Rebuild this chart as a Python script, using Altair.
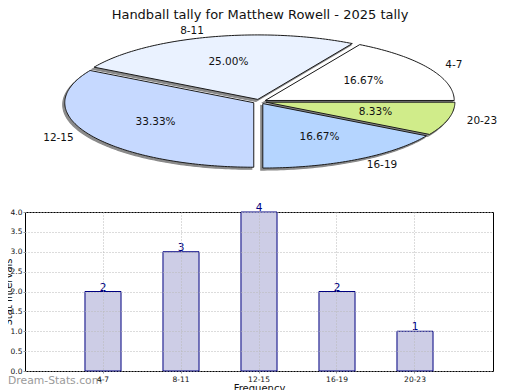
import math
import altair as alt
import pandas as pd

# ---------------- data ----------------
categories = ["4-7", "8-11", "12-15", "16-19", "20-23"]
counts = [2, 3, 4, 2, 1]
pie_colors = ["#ffffff", "#eaf2ff", "#c6d9ff", "#b5d5ff", "#d0ec8a"]
y_ticks = [0, 0.5, 1, 1.5, 2, 2.5, 3, 3.5, 4]
title_text = "Handball tally for Matthew Rowell - 2025 tally"
watermark = "Dream-Stats.com"

FONT = "DejaVu Sans"

# pie geometry in top-panel pixels
CX, CY, RX, RY = 234.5, 91.6, 189, 64.5
EXPLODE = 0.035
SHADOW_DX, SHADOW_DY = -2, 2

total = sum(counts)


def ell(a_deg, ox, oy, k=1.0):
    a = math.radians(a_deg)
    return [CX + ox + k * RX * math.cos(a), CY + oy - k * RY * math.sin(a)]


features, shadows, lab_rows = [], [], []
start = 0.0
for cat, n in zip(categories, counts):
    sweep = 360.0 * n / total
    a0 = start
    mid = a0 + sweep / 2
    ox = EXPLODE * RX * math.cos(math.radians(mid))
    oy = -EXPLODE * RY * math.sin(math.radians(mid))
    steps = max(4, int(math.ceil(sweep)))
    ring = [[CX + ox, CY + oy]] + [ell(a0 + sweep * i / steps, ox, oy) for i in range(steps + 1)] + [[CX + ox, CY + oy]]
    features.append({"type": "Feature", "properties": {"cat": cat},
                     "geometry": {"type": "Polygon", "coordinates": [ring]}})
    sring = [[p[0] + SHADOW_DX, p[1] + SHADOW_DY] for p in ring]
    shadows.append({"type": "Feature", "properties": {"cat": cat},
                    "geometry": {"type": "Polygon", "coordinates": [sring]}})
    px, py = ell(mid, ox, oy, 0.6)
    lx, ly = ell(mid, ox, oy, 1.1)
    lab_rows.append({"cat": cat, "pct": f"{100.0 * n / total:.2f}%", "px": px, "py": py,
                     "lx": lx, "ly": ly, "side": "L" if math.cos(math.radians(mid)) >= 0 else "R"})
    start += sweep

lab_df = pd.DataFrame(lab_rows)

proj = dict(type="identity", scale=1, translate=[0, 0])

shadow_layer = alt.Chart(
    alt.InlineData(values={"type": "FeatureCollection", "features": shadows},
                   format=alt.DataFormat(type="json", property="features"))
).mark_geoshape(fill="#8a8a8a", stroke="#8a8a8a", strokeWidth=1.2).project(**proj)

slice_layer = alt.Chart(
    alt.InlineData(values={"type": "FeatureCollection", "features": features},
                   format=alt.DataFormat(type="json", property="features"))
).mark_geoshape(stroke="#1a1a1a", strokeWidth=1).encode(
    color=alt.Color("properties.cat:N", scale=alt.Scale(domain=categories, range=pie_colors), legend=None)
).project(**proj)

pct_layer = alt.Chart(lab_df).mark_text(font=FONT, fontSize=10.5, color="#111").encode(
    longitude="px:Q", latitude="py:Q", text="pct:N"
).project(**proj)

lab_left = alt.Chart(lab_df).transform_filter(alt.datum.side == "L").mark_text(
    font=FONT, fontSize=10.5, color="#111", align="left").encode(
    longitude="lx:Q", latitude="ly:Q", text="cat:N").project(**proj)

lab_right = alt.Chart(lab_df).transform_filter(alt.datum.side == "R").mark_text(
    font=FONT, fontSize=10.5, color="#111", align="right").encode(
    longitude="lx:Q", latitude="ly:Q", text="cat:N").project(**proj)

title_layer = alt.Chart(pd.DataFrame({"t": [title_text]})).mark_text(
    font=FONT, fontSize=13, color="#111", baseline="top").encode(
    text="t:N", x=alt.value(CX + 0.5), y=alt.value(-1))

top = alt.layer(shadow_layer, slice_layer, pct_layer, lab_left, lab_right, title_layer).properties(
    width=478, height=202)

# ---------------- bar chart ----------------
bar_df = pd.DataFrame({"cat": categories, "count": counts})

x_enc = alt.X("cat:N", sort=categories,
              scale=alt.Scale(paddingInner=0.538, paddingOuter=0.769),
              axis=alt.Axis(title="Frequency", labelAngle=0, labelFontSize=7.5, labelColor="#111",
                            tickSize=2, tickColor="#999", grid=True, gridDash=[1, 2], gridColor="#b8b8b8",
                            domain=False, zindex=1, titleFontSize=10, titleFontWeight="normal",
                            titleColor="#111", labelPadding=2, titlePadding=1, bandPosition=0.5))
y_enc = alt.Y("count:Q", scale=alt.Scale(domain=[0, 4], nice=False),
              axis=alt.Axis(values=y_ticks, format=".1f", title="Stat Intervals", labelFontSize=7.5,
                            labelColor="#111", tickSize=2, tickColor="#999", grid=True, gridDash=[1, 2],
                            gridColor="#b8b8b8", domain=False, zindex=1, titleFontSize=10,
                            titleFontWeight="normal", titleColor="#111", labelPadding=1,
                            labelOverlap=False, titleX=-12, titleY=79.5))

bars = alt.Chart(bar_df).mark_bar(fill="#cdcde6", stroke="#000080", strokeWidth=1).encode(x=x_enc, y=y_enc)
vals = alt.Chart(bar_df).mark_text(font=FONT, fontSize=10.5, color="#000080", baseline="bottom", dy=1).encode(
    x=x_enc, y=y_enc, text="count:Q")
wm = alt.Chart(pd.DataFrame({"w": [watermark]})).mark_text(
    font=FONT, fontSize=10.8, color="#9a9a9a", align="left", baseline="alphabetic").encode(
    text="w:N", x=alt.value(-17), y=alt.value(172))

bar = alt.layer(bars, vals, wm).properties(width=468, height=159,
                                            view=alt.ViewBackground(stroke="#000", strokeWidth=1))

chart = alt.vconcat(top, bar, spacing=0, bounds="flush").properties(
    padding={"left": -6, "top": 0, "right": 0, "bottom": 0}
).configure(font=FONT).configure_view(stroke="transparent")

chart.save("out.html", embed_options={"renderer": "svg", "actions": False})
